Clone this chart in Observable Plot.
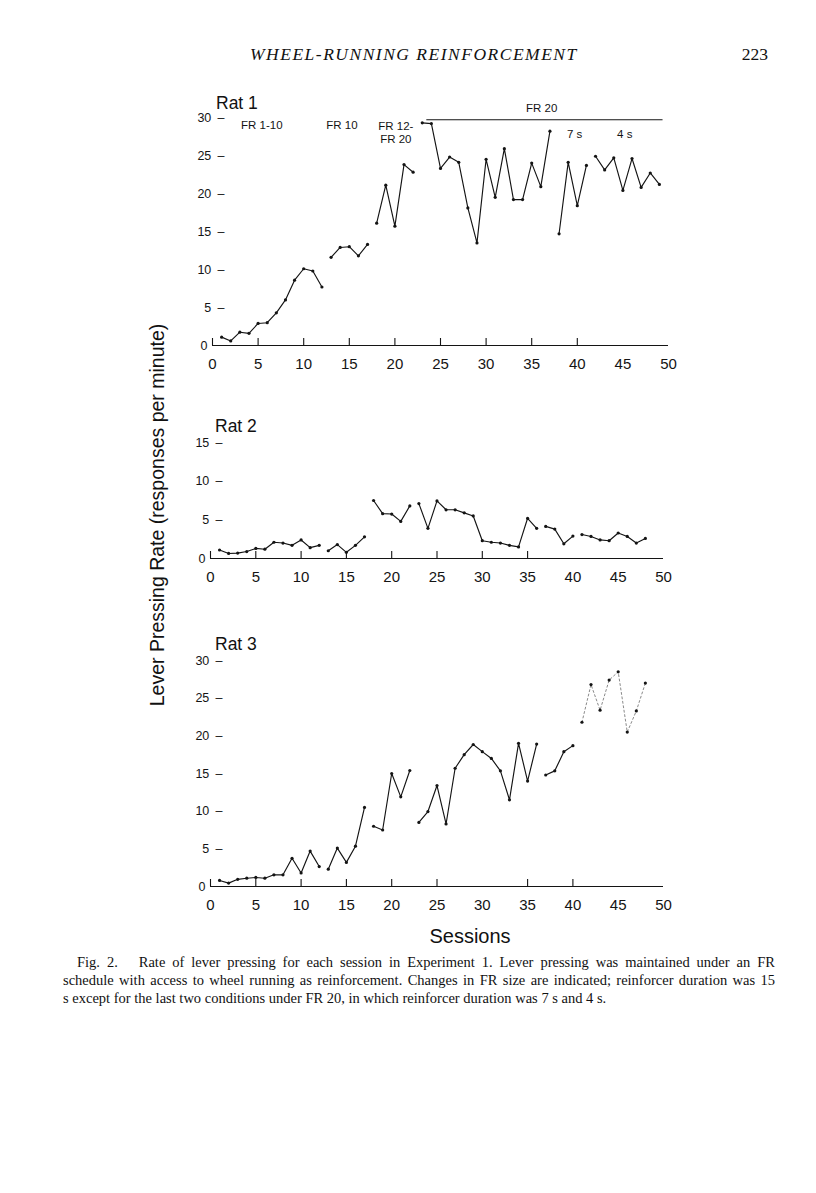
<!DOCTYPE html>
<html>
<head>
<meta charset="utf-8">
<script src="https://cdn.jsdelivr.net/npm/d3@7"></script>
<script src="https://cdn.jsdelivr.net/npm/@observablehq/plot@0.6"></script>
<style>
  html, body { margin: 0; padding: 0; background: #fff; }
  body { width: 816px; height: 1193px; position: relative; overflow: hidden; font-family: "Liberation Sans", Arial, Helvetica, sans-serif; color: #111; }
  .abs { position: absolute; }
  .serif { font-family: "Liberation Serif", "Times New Roman", serif; }
  svg { overflow: visible; }
  .capline { position: absolute; left: 63px; width: 712px; white-space: nowrap; font-size: 14.5px; line-height: 18px; }
  .just { text-align: justify; text-align-last: justify; }
</style>
</head>
<body>
<div class="abs serif" id="header" style="left:250px; top:45px; font-size:17.5px; font-style:italic; line-height:18px; letter-spacing:1.5px; white-space:nowrap;">WHEEL-RUNNING REINFORCEMENT</div>
<div class="abs serif" id="pageno" style="left:700px; width:68px; text-align:right; top:45px; font-size:17.5px; line-height:18px;">223</div>

<div class="abs" id="ylabel" style="left:-43px; width:400px; top:503px; height:24px; line-height:24px; text-align:center; font-size:19.5px; transform: rotate(-90deg); transform-origin: 200px 12px;">Lever Pressing Rate (responses per minute)</div>

<div class="abs" id="t1" style="left:216px; top:95px; font-size:17.5px; line-height:17.5px;">Rat 1</div>
<div class="abs" id="t2" style="left:215px; top:418px; font-size:17.5px; line-height:17.5px;">Rat 2</div>
<div class="abs" id="t3" style="left:215px; top:636px; font-size:17.5px; line-height:17.5px;">Rat 3</div>

<div class="abs" id="p1" style="left:150px; top:85px;"></div>
<div class="abs" id="p2" style="left:150px; top:420px;"></div>
<div class="abs" id="p3" style="left:150px; top:640px;"></div>

<div class="abs" id="xlabel" style="left:370px; width:200px; text-align:center; top:924px; font-size:20px; line-height:24px;">Sessions</div>

<div class="serif">
  <div class="capline just" style="top:953px; left:77px; width:698px;">Fig. 2.&nbsp;&nbsp; Rate of lever pressing for each session in Experiment 1. Lever pressing was maintained under an FR</div>
  <div class="capline just" style="top:971px;">schedule with access to wheel running as reinforcement. Changes in FR size are indicated; reinforcer duration was 15</div>
  <div class="capline" style="top:989px;">s except for the last two conditions under FR 20, in which reinforcer duration was 7 s and 4 s.</div>
</div>

<script>
// ---------------- data ----------------
const rat1Rate = [1.1, 0.6, 1.75, 1.6, 2.9, 3.0, 4.3, 6.0, 8.6, 10.1, 9.8, 7.7,
  11.6, 12.9, 13.0, 11.8, 13.3,
  16.1, 21.1, 15.7, 23.8, 22.8,
  29.3, 29.2, 23.3, 24.8, 24.1, 18.1, 13.5, 24.5, 19.5, 25.9, 19.2, 19.2, 24.0, 20.9, 28.2,
  14.7, 24.1, 18.4, 23.7,
  24.9, 23.1, 24.7, 20.4, 24.6, 20.8, 22.7, 21.2];
const rat2Rate = [1.1, 0.65, 0.7, 0.9, 1.3, 1.2, 2.1, 2.0, 1.7, 2.4, 1.4, 1.7,
  1.0, 1.8, 0.8, 1.7, 2.8,
  7.5, 5.8, 5.75, 4.8, 6.8,
  7.1, 3.9, 7.45, 6.3, 6.3, 5.9, 5.5, 2.3, 2.1, 2.0, 1.7, 1.5, 5.2, 3.9,
  4.15, 3.8, 1.9, 2.9,
  3.1, 2.85, 2.4, 2.3, 3.3, 2.85, 2.0, 2.6];
const rat3Rate = [0.8, 0.45, 0.95, 1.1, 1.2, 1.1, 1.55, 1.55, 3.75, 1.8, 4.7, 2.65,
  2.3, 5.1, 3.2, 5.35, 10.5,
  8.0, 7.5, 15.0, 11.9, 15.4,
  8.5, 9.95, 13.4, 8.3, 15.7, 17.5, 18.85, 17.9, 17.0, 15.35, 11.5, 19.0, 14.0, 18.9,
  14.8, 15.35, 17.9, 18.7,
  21.8, 26.8, 23.4, 27.4, 28.5, 20.5, 23.3, 27.0];

// first session of each condition (lines break between conditions)
const rat1PhaseStart = [1, 13, 18, 23, 38, 42];
const rat2PhaseStart = [1, 13, 18, 23, 37, 41];
const rat3PhaseStart = [1, 13, 18, 23, 37, 41];

const xTickValues = [0, 5, 10, 15, 20, 25, 30, 35, 40, 45, 50];
const rat1MarkTicks = [0, 5, 10, 15, 20, 25, 30, 35, 40];
const rat2MarkTicks = [0, 5, 10, 15, 20, 25, 30, 35];
const rat3MarkTicks = [0, 5, 10, 15, 20, 25, 35, 40];
const yTicks30 = [5, 10, 15, 20, 25, 30];
const yTicks15 = [5, 10, 15];
const yZeroTick = [0];

// condition labels for Rat 1
const rat1Labels = [
  {session: 5.4, rate: 29.0, text: "FR 1-10"},
  {session: 14.2, rate: 29.0, text: "FR 10"},
  {session: 20.1, rate: 28.9, text: "FR 12-"},
  {session: 20.1, rate: 27.1, text: "FR 20"},
  {session: 36.1, rate: 31.2, text: "FR 20"},
  {session: 39.7, rate: 27.8, text: "7 s"},
  {session: 45.2, rate: 27.8, text: "4 s"}
];
const fr20Span = [23.5, 49.4];
const fr20Level = 29.7;

// ---------------- helpers ----------------
function rowsOf(values, phaseStarts) {
  return values.map((v, i) => {
    const s = i + 1;
    let phase = 0;
    phaseStarts.forEach((p, k) => { if (s >= p) phase = k; });
    return {session: s, rate: v, phase};
  });
}

const ink = "#141414";
const fmtY = d => `${d}\u2002\u2013`;

function panel({rows, yMax, yTicks, markTicks, width, height, marginLeft, marginRight, marginTop, marginBottom, lineFilter, extra = []}) {
  const solid = lineFilter ? rows.filter(lineFilter) : rows;
  return Plot.plot({
    width, height, marginLeft, marginRight, marginTop, marginBottom,
    style: {fontFamily: "'Liberation Sans', Arial, Helvetica, sans-serif", background: "transparent", color: ink, overflow: "visible"},
    x: {domain: [0, 50], label: null},
    y: {domain: [0, yMax], label: null},
    marks: [
      Plot.ruleY([0], {stroke: ink, strokeWidth: 1.2}),
      Plot.axisX({ticks: markTicks, tickSize: -7, tickFormat: () => "", stroke: ink, strokeWidth: 1.1}),
      Plot.axisX({ticks: xTickValues, tickSize: 0, tickPadding: 13, fontSize: 15, tickFormat: d => String(d), fill: ink}),
      Plot.axisY({ticks: yTicks, tickSize: 0, tickPadding: -12, fontSize: 12.5, tickFormat: fmtY, fill: ink}),
      Plot.axisY({ticks: yZeroTick, tickSize: 0, tickPadding: 5, fontSize: 12.5, tickFormat: d => String(d), fill: ink}),
      Plot.line(solid, {x: "session", y: "rate", z: "phase", stroke: ink, strokeWidth: 1.15}),
      ...extra,
      Plot.dot(rows, {x: "session", y: "rate", r: 1.6, fill: ink, stroke: null})
    ]
  });
}

const rows1 = rowsOf(rat1Rate, rat1PhaseStart);
const rows2 = rowsOf(rat2Rate, rat2PhaseStart);
const rows3 = rowsOf(rat3Rate, rat3PhaseStart);

document.getElementById("p1").append(panel({
  rows: rows1, yMax: 30, yTicks: yTicks30, markTicks: rat1MarkTicks,
  width: 560, height: 295, marginLeft: 62, marginRight: 42, marginTop: 32, marginBottom: 35,
  extra: [
    Plot.ruleY([fr20Level], {x1: fr20Span[0], x2: fr20Span[1], stroke: ink, strokeWidth: 1.1}),
    Plot.text(rat1Labels, {x: "session", y: "rate", text: "text", fontSize: 11.5, fill: ink})
  ]
}));

document.getElementById("p2").append(panel({
  rows: rows2, yMax: 15, yTicks: yTicks15, markTicks: rat2MarkTicks,
  width: 560, height: 173, marginLeft: 60, marginRight: 47, marginTop: 22, marginBottom: 35
}));

const lastPhase3 = rat3PhaseStart.length - 1;
document.getElementById("p3").append(panel({
  rows: rows3, yMax: 30, yTicks: yTicks30, markTicks: rat3MarkTicks,
  width: 560, height: 281, marginLeft: 60, marginRight: 47, marginTop: 20, marginBottom: 35,
  lineFilter: d => d.phase !== lastPhase3,
  extra: [
    Plot.line(rows3.filter(d => d.phase === lastPhase3), {x: "session", y: "rate", stroke: "#8a8a8a", strokeWidth: 1, strokeDasharray: "2,2.5"})
  ]
}));
</script>
</body>
</html>
